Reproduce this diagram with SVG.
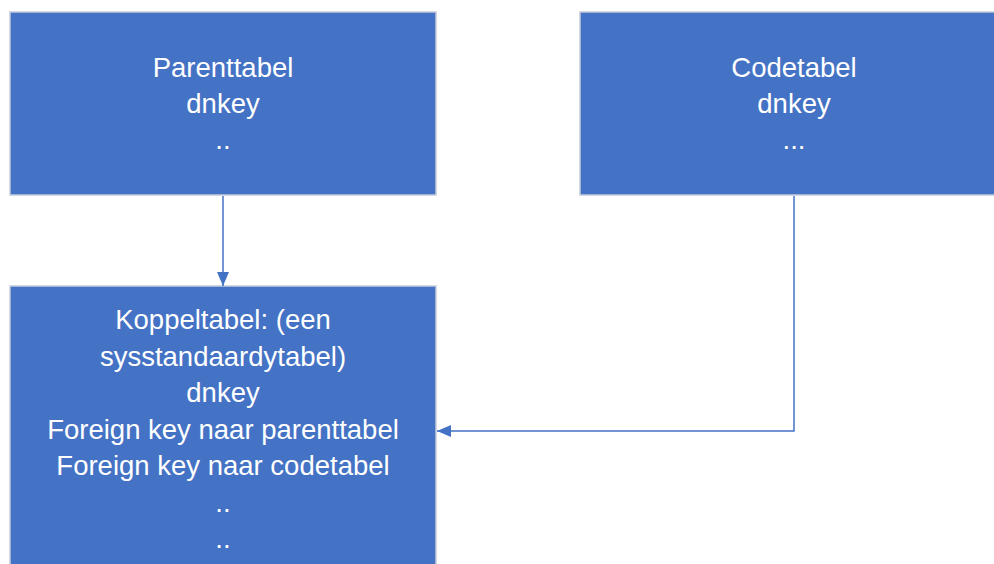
<svg xmlns="http://www.w3.org/2000/svg" width="994" height="564" viewBox="0 0 994 564">
  <style>
    .box { fill: #4472C4; stroke: #c3cbdb; stroke-width: 1.5; }
    .lbl { font-family: "Liberation Sans", Arial, sans-serif; font-size: 27.5px; fill: #ffffff; text-anchor: middle; }
    .conn { fill: none; stroke: #4472C4; stroke-width: 1.5; }
  </style>
  <defs>
    <marker id="arr" markerWidth="14" markerHeight="12" refX="14" refY="6" orient="auto" markerUnits="userSpaceOnUse">
      <path d="M0,0 L14,6 L0,12 Z" fill="#4472C4"/>
    </marker>
  </defs>
  <rect width="994" height="564" fill="#ffffff"/>
  <g id="parenttabel">
    <rect class="box" x="10" y="12" width="426" height="183"/>
    <text class="lbl" x="223" y="77">Parenttabel</text>
    <text class="lbl" x="223" y="113">dnkey</text>
    <text class="lbl" x="223" y="149">..</text>
  </g>
  <g id="codetabel">
    <rect class="box" x="580" y="12" width="430" height="183"/>
    <text class="lbl" x="794" y="77">Codetabel</text>
    <text class="lbl" x="794" y="113">dnkey</text>
    <text class="lbl" x="794" y="149">...</text>
  </g>
  <g id="koppeltabel">
    <rect class="box" x="10" y="286" width="426" height="290"/>
    <text class="lbl" x="223" y="329">Koppeltabel: (een</text>
    <text class="lbl" x="223" y="365.5">sysstandaardytabel)</text>
    <text class="lbl" x="223" y="402">dnkey</text>
    <text class="lbl" x="223" y="438.5">Foreign key naar parenttabel</text>
    <text class="lbl" x="223" y="475">Foreign key naar codetabel</text>
    <text class="lbl" x="223" y="511.5">..</text>
    <text class="lbl" x="223" y="548">..</text>
  </g>
  <g id="connectors">
    <path class="conn" d="M223,196 L223,286" marker-end="url(#arr)"/>
    <path class="conn" d="M794,196 L794,431 L437,431" marker-end="url(#arr)"/>
  </g>
</svg>
